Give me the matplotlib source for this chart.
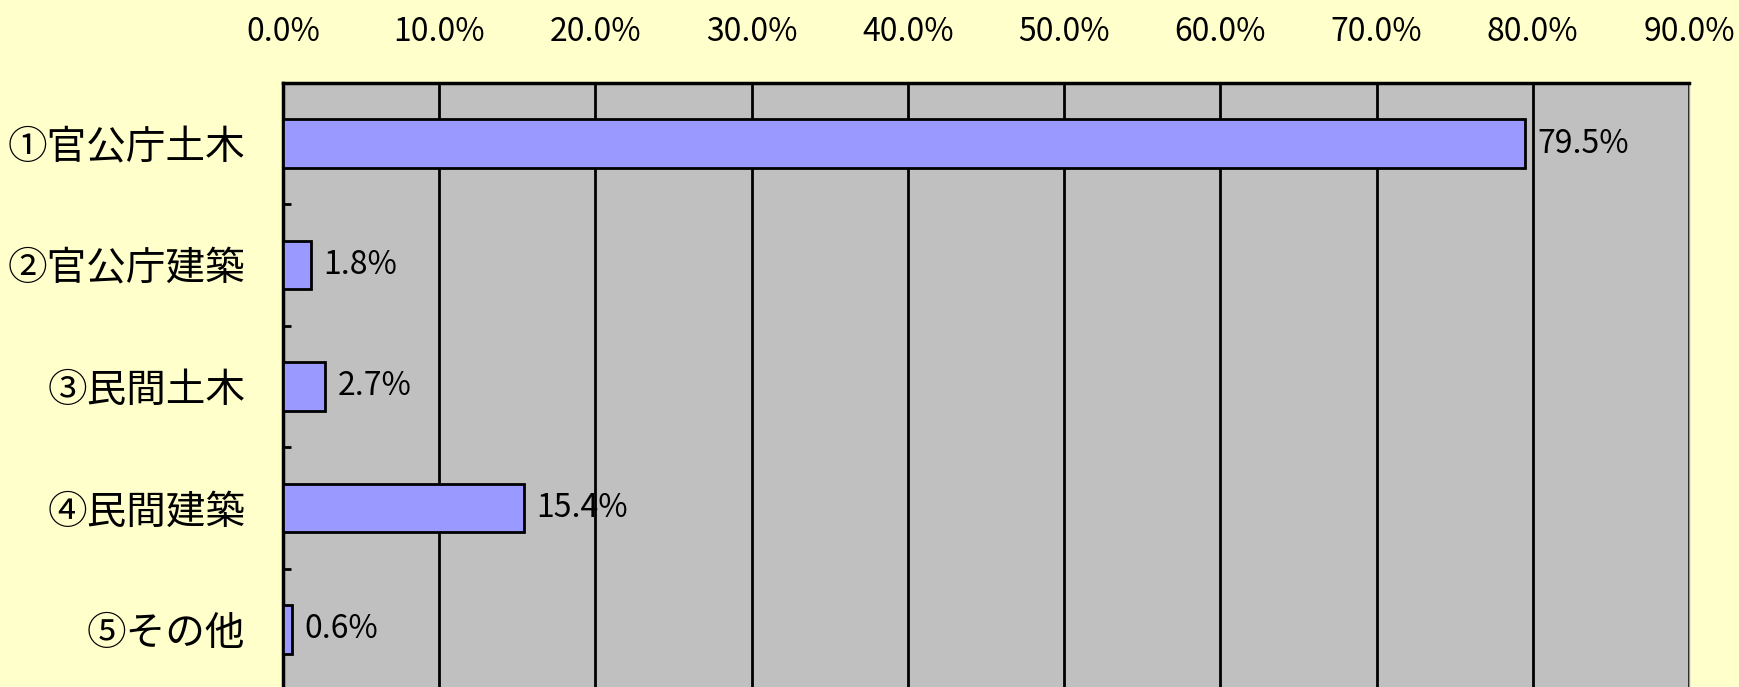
import matplotlib
matplotlib.use("Agg")
import matplotlib.pyplot as plt
from matplotlib.ticker import FuncFormatter, MultipleLocator

plt.rcParams['font.family'] = ['Noto Sans CJK JP', 'DejaVu Sans']

# Data
categories = ['①官公庁土木', '②官公庁建築', '③民間土木', '④民間建築', '⑤その他']
shares = [79.5, 1.8, 2.7, 15.4, 0.6]  # percent
x_ticks = [0, 10, 20, 30, 40, 50, 60, 70, 80, 90]

W, H = 1739, 687
fig = plt.figure(figsize=(W / 100, H / 100), dpi=100, facecolor='#FFFFCC')

# axes box in pixels: left 283, right 1689, top 83, bottom 690 (runs off the figure)
left, right, top, bottom = 283, 1689, 83, 690
ax = fig.add_axes([left / W, (H - bottom) / H, (right - left) / W, (bottom - top) / H])
ax.set_facecolor('#C0C0C0')

pos = list(range(len(categories)))
ax.barh(pos, shares, height=0.4, color='#9999FF', edgecolor='black', linewidth=2, zorder=3)

for y, v in zip(pos, shares):
    ax.annotate(f'{v:.1f}%', xy=(v, y), xytext=(9, 0), textcoords='offset points',
                va='center', ha='left', fontsize=23, zorder=4)

ax.set_xlim(0, 90)
ax.set_ylim(4.5, -0.5)
ax.set_xticks(x_ticks)
ax.xaxis.set_major_formatter(FuncFormatter(lambda x, p: f'{x:.1f}%'))
ax.xaxis.tick_top()
ax.tick_params(axis='x', length=0, pad=25, labelsize=23)

ax.set_yticks(pos)
ax.set_yticklabels(categories)
ax.tick_params(axis='y', which='major', length=0, pad=27, labelsize=28.5)
ax.yaxis.set_minor_locator(MultipleLocator(1, offset=0.5))
ax.tick_params(axis='y', which='minor', direction='in', length=6, width=2, color='black')

ax.grid(axis='x', color='black', linewidth=2, zorder=1)
ax.set_axisbelow(True)

for side in ['top', 'left']:
    ax.spines[side].set_linewidth(2.5)
    ax.spines[side].set_color('black')
ax.spines['right'].set_color('#999999')
ax.spines['right'].set_linewidth(1)
ax.spines['bottom'].set_visible(False)

fig.savefig('out.png', dpi=100, facecolor=fig.get_facecolor())
